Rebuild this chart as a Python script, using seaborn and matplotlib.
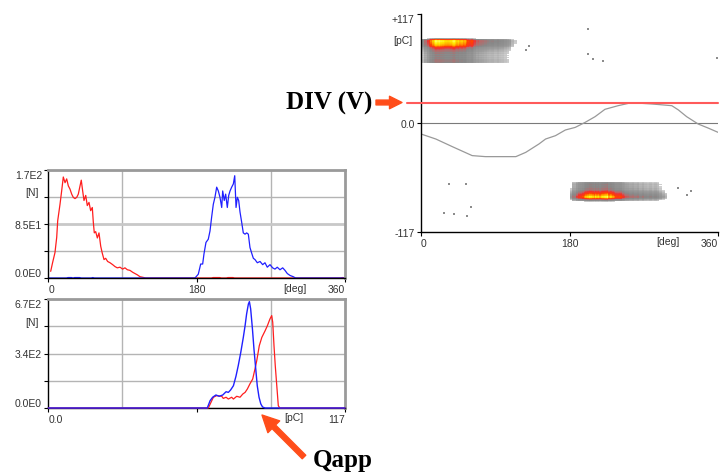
import numpy as np
import pandas as pd
import matplotlib
matplotlib.use("Agg")
import matplotlib.pyplot as plt
import seaborn as sns
from matplotlib.colors import LinearSegmentedColormap, LogNorm

# ---------------- data ----------------
# phase-resolved pulse count, positive pulses (red) [deg] -> [N]
pos_phase = [2.9, 5.3, 8.1, 10.2, 11.4, 14.2, 16.2, 18.2, 20.3, 22.3,
             24.3, 26.3, 28.4, 30.3, 32.4, 34.5, 36.4, 38.5, 40.0, 41.7,
             43.3, 45.4, 47.3, 49.4, 51.4, 53.4, 54.6, 55.8, 57.5, 59.5,
             61.5, 63.6, 65.5, 67.6, 69.6, 72.0, 74.9, 78.1, 80.9, 83.7,
             87.0, 90.2, 93.0, 95.9, 99.1, 102.4, 105.2, 108.0, 111.3, 115.0,
             118.0, 198.0, 200.0, 208.0, 210.0, 216.0, 218.0, 224.0, 226.0, 354.0,
             357.0, 360.0]
pos_phase_n = [10.5, 24.7, 40, 64, 90, 116, 137, 159, 150, 156,
               145, 140, 132, 127, 125, 127, 132, 145, 154, 137,
               122, 130, 114, 119, 106, 111, 88, 71, 73, 63,
               71, 50, 39, 29, 31, 26, 24, 21, 18, 16,
               17, 14, 16, 13, 12, 9, 7, 5, 2, 1,
               0, 0, 0.7, 0.7, 0, 0, 0.7, 0.7, 0, 0,
               0.7, 0]
# negative pulses (blue)
neg_phase = [0, 22, 24, 28, 30, 32, 38, 40, 52, 54,
             56, 178.0, 182.0, 184.9, 187.3, 188.9, 191.3, 194.1, 196.2, 198.2,
             200.2, 202.2, 204.3, 206.3, 208.3, 210.4, 211.6, 213.5, 215.2, 217.2,
             218.9, 220.5, 222.5, 224.5, 226.2, 227.8, 229.4, 231.0, 232.6, 234.6,
             236.6, 238.7, 240.7, 242.7, 244.7, 246.8, 248.8, 250.8, 253.6, 256.9,
             260.1, 262.9, 265.7, 269.0, 272.2, 275.0, 277.8, 281.1, 284.4, 287.2,
             290.0, 293.3, 297.3, 300.0, 360.0]
neg_phase_n = [0, 0, 0.7, 0.7, 0, 0.7, 0.7, 0, 0, 0.7,
               0, 0, 6, 22, 22, 38, 56, 61, 74, 96,
               116, 127, 143, 137, 127, 111, 137, 122, 132, 111,
               130, 137, 143, 148, 161, 111, 127, 122, 104, 88,
               71, 69, 71, 69, 48, 39, 31, 29, 24, 26,
               21, 24, 17, 21, 16, 14, 17, 13, 16, 12,
               7, 4, 2, 0, 0]

# pulse-height distribution |Qapp| [pC] -> [N]
pos_q = [0, 63.1, 65.1, 66.4, 68.4, 69.0, 70.1, 71.0, 72.3, 73.0,
         74.3, 75.6, 76.7, 77.6, 78.5, 79.5, 80.6, 81.5, 82.2, 83.2,
         84.2, 85.5, 86.4, 87.4, 88.1, 88.5, 89.0, 89.5, 90.1, 90.7,
         91.3, 117]
pos_q_n = [0, 0, 66, 76, 72, 59, 66, 55, 66, 55,
           72, 66, 86, 96, 117, 148, 178, 240, 291, 383,
           434, 475, 506, 547, 568, 527, 383, 260, 137, 14,
           0, 0]
neg_q = [0, 62.7, 63.8, 64.8, 66.1, 67.4, 68.8, 70.1, 71.0, 71.9,
         73.0, 74.0, 74.9, 75.9, 76.9, 77.6, 78.2, 78.9, 79.3, 79.8,
         80.5, 81.1, 81.8, 82.4, 83.1, 83.8, 84.5, 85.5, 117]
neg_q_n = [0, 0, 45, 66, 80, 72, 80, 100, 96, 111,
           137, 195, 260, 342, 434, 506, 578, 639, 654, 609,
           486, 363, 240, 137, 66, 25, 6, 0, 0]

# reference (test voltage) trace in the PRPD window
ref_phase = [0, 18, 38, 62, 78, 115, 127, 143, 151, 163, 175, 187, 199,
             211, 223, 239, 255, 280, 304, 312, 322, 336, 348, 360]
ref_val = [-11.8, -17.2, -25.4, -35.0, -36.1, -36.1, -31.5, -22.5, -17.2,
           -13.6, -7.5, -4.7, 0.7, 6.8, 14.7, 18.6, 21.8, 20.4, 18.6, 14.0,
           6.8, -1.1, -5.4, -10.0]
div_level = 21.8

# isolated PD events outside the main clusters
stray_phase = [202, 203, 209, 221, 359, 131, 127, 34, 54, 28, 40, 56, 60, 322, 312, 327]
stray_q = [101, 74, 69, 67, 70, 83, 78, -66, -66, -97, -98, -100, -90, -77, -70, -73]

# tick labels
hist1_ylabels = ["0.0E0", "", "8.5E1", "", "1.7E2"]
hist2_ylabels = ["0.0E0", "", "3.4E2", "", "6.7E2"]
phase_labels = ["0", "180", "360"]
charge_labels = ["0.0", "", "117"]
prpd_ylabels = ["-117", "0.0", "+117"]

# ---------------- style ----------------
sns.set_style("white")
plt.rcParams["font.family"] = ["Liberation Sans", "DejaVu Sans"]

W, H = 720, 477
fig = plt.figure(figsize=(W / 100, H / 100), dpi=100)
fig.patch.set_facecolor("white")


def rect(x0, y0, x1, y1):
    return [x0 / W, 1 - y1 / H, (x1 - x0) / W, (y1 - y0) / H]


TXT = "#333333"
GRID = "#b4b4b4"
FRAME = "#9a9a9a"
RED = "#ff1e1e"
BLUE = "#2020ff"
FS = 7.5


def frame_hist(ax):
    for s in ("left", "bottom"):
        ax.spines[s].set_color("black")
        ax.spines[s].set_linewidth(1.0)
        ax.spines[s].set_visible(True)
    for s in ("top", "right"):
        ax.spines[s].set_color(FRAME)
        ax.spines[s].set_linewidth(2.0)
        ax.spines[s].set_visible(True)
    ax.tick_params(axis="both", which="major", length=3, width=0.8, color="black",
                   labelsize=FS, labelcolor=TXT, pad=1.5, left=True, bottom=True)
    ax.tick_params(axis="x", which="minor", length=0)
    ax.grid(which="minor", axis="x", color=GRID, lw=1)
    ax.grid(which="major", axis="y", color=GRID, lw=1)
    ax.set_xlabel("")
    ax.set_ylabel("")
    xl = ax.get_xticklabels()
    xl[0].set_ha("left")
    xl[-1].set_ha("right")
    yl = ax.get_yticklabels()
    yl[0].set_va("bottom")
    yl[-1].set_va("top")


# ---------- top-left: phase distribution ----------
ax1 = fig.add_axes(rect(48.3, 171, 345, 279))
sns.lineplot(x=pos_phase, y=pos_phase_n, ax=ax1, color=RED, lw=0.9,
             estimator=None, sort=False)
sns.lineplot(x=neg_phase, y=neg_phase_n, ax=ax1, color=BLUE, lw=0.9,
             estimator=None, sort=False)
ax1.set_xlim(0, 360)
ax1.set_ylim(0, 170)
ax1.set_xticks([0, 180, 360])
ax1.set_xticklabels(phase_labels)
ax1.set_xticks([90, 180, 270], minor=True)
ax1.set_yticks([0, 42.5, 85, 127.5, 170])
ax1.set_yticklabels(hist1_ylabels)
frame_hist(ax1)
ax1.get_ygridlines()[2].set_linewidth(2.0)
ax1.get_ygridlines()[2].set_color("#c8c8c8")
ax1.text(-0.031, 0.796, "[N]", transform=ax1.transAxes, ha="right", va="center",
         fontsize=FS, color=TXT)
ax1.text(299, -0.045, "[deg]", transform=ax1.get_xaxis_transform(), ha="center",
         va="top", fontsize=FS, color=TXT)

# ---------- bottom-left: pulse height distribution ----------
ax2 = fig.add_axes(rect(48.3, 300, 345, 409))
sns.lineplot(x=pos_q, y=pos_q_n, ax=ax2, color=RED, lw=0.9,
             estimator=None, sort=False, zorder=3, clip_on=False)
sns.lineplot(x=neg_q, y=neg_q_n, ax=ax2, color=BLUE, lw=1.0,
             estimator=None, sort=False, zorder=3, clip_on=False)
ax2.set_xlim(0, 117)
ax2.set_ylim(0, 670)
ax2.set_xticks([0, 58.5, 117])
ax2.set_xticklabels(charge_labels)
ax2.set_xticks([29.25, 58.5, 87.75], minor=True)
ax2.set_yticks([0, 167.5, 335, 502.5, 670])
ax2.set_yticklabels(hist2_ylabels)
frame_hist(ax2)
ax2.text(-0.031, 0.79, "[N]", transform=ax2.transAxes, ha="right", va="center",
         fontsize=FS, color=TXT)
ax2.text(96.7, -0.035, "[pC]", transform=ax2.get_xaxis_transform(), ha="center",
         va="top", fontsize=FS, color=TXT)

# ---------- right: PRPD pattern ----------
ax3 = fig.add_axes(rect(421, 15, 718, 233))
ax3.set_facecolor("white")

cmap = LinearSegmentedColormap.from_list("prpd", [
    (0.00, "#d0d0d0"), (0.30, "#9c9c9c"), (0.55, "#888888"), (0.66, "#b86868"),
    (0.74, "#f03030"), (0.84, "#ff4000"), (0.91, "#ffa000"), (0.96, "#ffe800"),
    (1.00, "#ffff60")])
cmap.set_bad((1, 1, 1, 0))
cmap.set_under((1, 1, 1, 0))
norm = LogNorm(vmin=0.005, vmax=1.0)

pp = np.array(pos_phase_n, float) / max(pos_phase_n)
pq = np.array(pos_q_n, float) / max(pos_q_n)
ax3.pcolormesh(np.array(pos_phase), np.array(pos_q), np.outer(pq, pp),
               shading="nearest", cmap=cmap, norm=norm, zorder=1)

npn = np.array(neg_phase_n, float) / max(neg_phase_n)
nq = (np.array(neg_q_n, float) / max(neg_q_n))[::-1]
nqy = -np.array(neg_q, float)[::-1]
ax3.pcolormesh(np.array(neg_phase), nqy, np.outer(nq, npn),
               shading="nearest", cmap=cmap, norm=norm, zorder=1)

sns.scatterplot(x=stray_phase, y=stray_q, ax=ax3, color="#8c8c8c", s=3,
                marker="s", linewidth=0, zorder=2)
ax3.axhline(0, color="#7a7a7a", lw=0.8, zorder=1.5)
sns.lineplot(x=ref_phase, y=ref_val, ax=ax3, color="#999999", lw=0.9,
             estimator=None, sort=False, zorder=2)
ax3.axhline(div_level, xmin=-0.047, xmax=1.0, color="#ff5a5a", lw=1.5,
            clip_on=False, zorder=3)

ax3.set_xlim(0, 360)
ax3.set_ylim(-117, 117)
ax3.set_xticks([0, 180, 360])
ax3.set_xticklabels(phase_labels)
ax3.set_yticks([-117, 0, 117])
ax3.set_yticklabels(prpd_ylabels)
for s in ("left", "bottom"):
    ax3.spines[s].set_color("black")
    ax3.spines[s].set_linewidth(1.0)
for s in ("top", "right"):
    ax3.spines[s].set_visible(False)
ax3.tick_params(axis="both", which="major", length=3, width=0.8, color="black",
                labelsize=FS, labelcolor=TXT, pad=1.5, left=True, bottom=True)
ax3.set_xlabel("")
ax3.set_ylabel("")
xl = ax3.get_xticklabels()
xl[0].set_ha("left")
xl[-1].set_ha("right")
ax3.get_yticklabels()[-1].set_va("top")
ax3.text(-0.027, 0.881, "[pC]", transform=ax3.transAxes, ha="right", va="center",
         fontsize=FS, color=TXT)
ax3.text(298.8, -0.02, "[deg]", transform=ax3.get_xaxis_transform(), ha="center",
         va="top", fontsize=FS, color=TXT)

# ---------- annotations ----------
SERIF = ["Liberation Serif", "DejaVu Serif"]
ARROW = "#ff4d1a"
fig.text(372 / W, 1 - 103 / H, "DIV (V)", ha="right", va="center", fontsize=18,
         fontweight="bold", family=SERIF, color="black")
fig.text(313 / W, 1 - 461 / H, "Qapp", ha="left", va="center", fontsize=18,
         fontweight="bold", family=SERIF, color="black")
ax3.annotate("", xy=(402, H - 103.5), xytext=(376, H - 103.5), xycoords="figure pixels",
             textcoords="figure pixels",
             arrowprops=dict(arrowstyle="simple,head_length=0.9,head_width=0.9,tail_width=0.35",
                             color=ARROW, shrinkA=0, shrinkB=0, mutation_scale=10),
             annotation_clip=False)
ax3.annotate("", xy=(262, H - 416), xytext=(304, H - 458), xycoords="figure pixels",
             textcoords="figure pixels",
             arrowprops=dict(arrowstyle="simple,head_length=1.0,head_width=1.0,tail_width=0.3",
                             color=ARROW, shrinkA=0, shrinkB=0, mutation_scale=12),
             annotation_clip=False)

fig.savefig("out.png", dpi=100, facecolor="white")
